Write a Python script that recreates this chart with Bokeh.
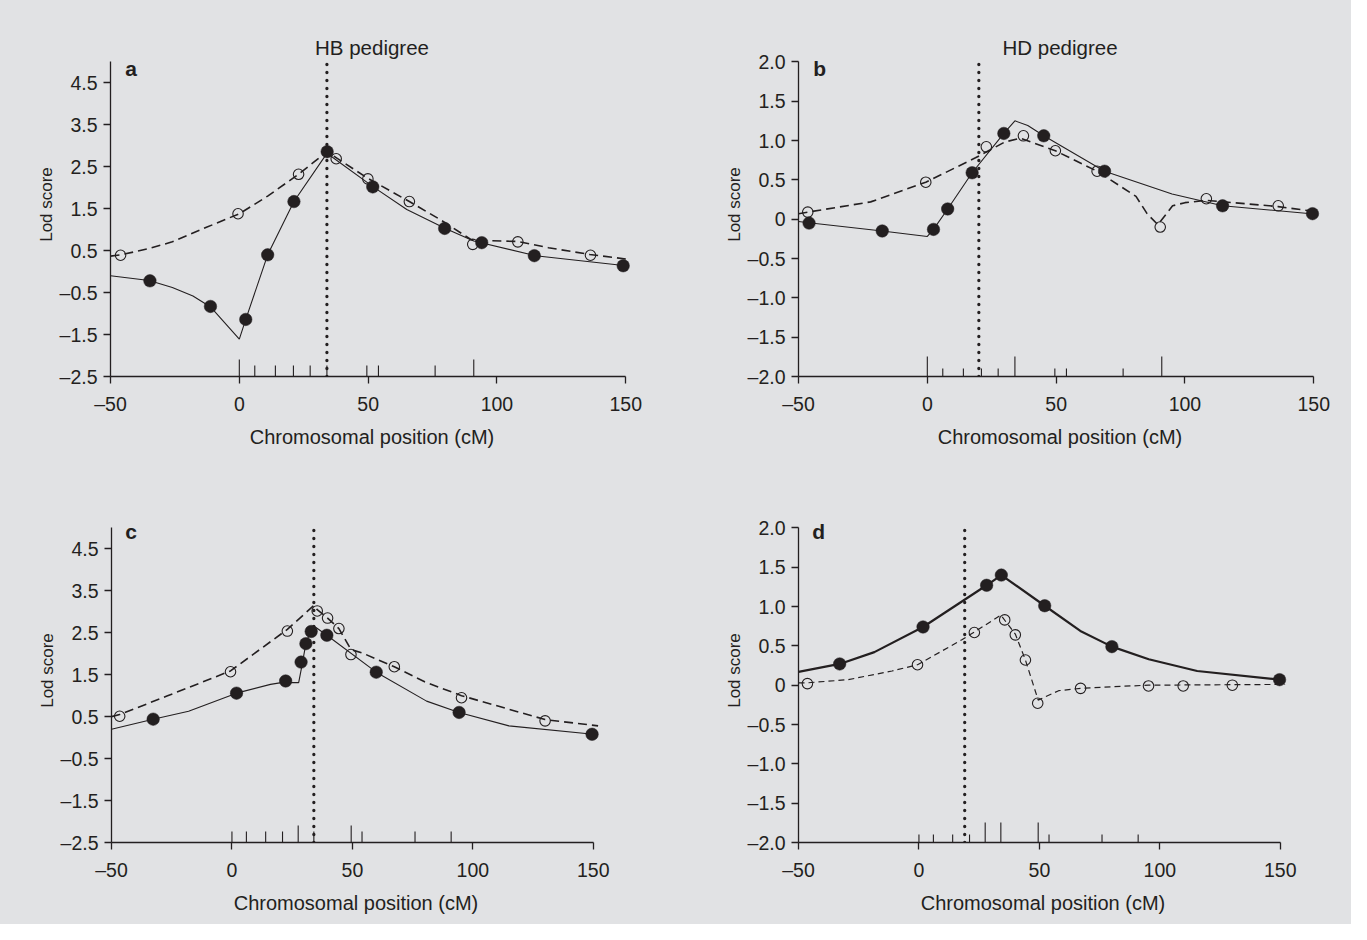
from bokeh.plotting import figure
from bokeh.layouts import column, row
from bokeh.models import FixedTicker, Label
from bokeh.embed import file_html
from bokeh.resources import INLINE

# ---------------- data ----------------
x_ticks = [-50, 0, 50, 100, 150]
y_ticks_ac = [-2.5, -1.5, -0.5, 0.5, 1.5, 2.5, 3.5, 4.5]
y_ticks_bd = [-2.0, -1.5, -1.0, -0.5, 0.0, 0.5, 1.0, 1.5, 2.0]

marker_pos = [0, 6, 14, 21, 27.5, 34, 49.5, 54, 76, 91]
a_tall = [1, 0, 0, 0, 0, 0, 0, 0, 0, 1]
b_tall = [1, 0, 0, 0, 0, 1, 0, 0, 0, 1]
c_tall = [0, 0, 0, 0, 1, 0, 1, 0, 0, 0]
d_tall = [0, 0, 0, 0, 1, 1, 1, 0, 0, 0]

# panel a (HB pedigree)
a_locus = 34
a_filled_x = [-34.7, -11.2, 2.5, 11.0, 21.2, 34.1, 51.8, 79.7, 94.1, 114.5, 149.0]
a_filled_y = [-0.22, -0.83, -1.14, 0.40, 1.67, 2.86, 2.02, 1.03, 0.69, 0.38, 0.14]
a_open_x = [-46.1, -0.5, 23.0, 37.6, 49.9, 66.0, 90.6, 108.1, 136.3]
a_open_y = [0.39, 1.38, 2.32, 2.69, 2.21, 1.67, 0.65, 0.71, 0.39]
a_solid_x = [-50, -35, -26, -18, -11, 0, 2.5, 11, 21.2, 34, 52, 65, 80, 91, 115, 150]
a_solid_y = [-0.10, -0.21, -0.38, -0.58, -0.85, -1.61, -1.14, 0.40, 1.67, 2.82, 2.02, 1.48, 1.03, 0.73, 0.38, 0.14]
a_dash_x = [-50, -46, -35, -26, -13, 0, 11, 23, 34, 38, 50, 66, 78, 90, 95, 108, 120, 136, 150]
a_dash_y = [0.37, 0.40, 0.55, 0.71, 1.05, 1.38, 1.80, 2.32, 2.86, 2.70, 2.22, 1.67, 1.24, 0.76, 0.74, 0.72, 0.57, 0.41, 0.30]

# panel b (HD pedigree)
b_locus = 20
b_filled_x = [-45.9, -17.5, 2.4, 7.9, 17.4, 29.7, 45.2, 68.8, 114.6, 149.5]
b_filled_y = [-0.05, -0.15, -0.13, 0.13, 0.59, 1.09, 1.06, 0.61, 0.17, 0.07]
b_open_x = [-46.4, -0.6, 22.9, 37.3, 49.7, 65.9, 90.4, 108.3, 136.2]
b_open_y = [0.09, 0.47, 0.92, 1.06, 0.87, 0.61, -0.10, 0.26, 0.17]
b_solid_x = [-50, -46, -17.5, 0, 2.4, 7.9, 17.4, 29.7, 34, 39, 45.2, 68.8, 95, 114.6, 150]
b_solid_y = [-0.03, -0.045, -0.15, -0.22, -0.13, 0.13, 0.59, 1.09, 1.25, 1.19, 1.06, 0.61, 0.32, 0.17, 0.066]
b_dash_x = [-50, -46.4, -22, -0.6, 18.7, 30, 36, 49.7, 65.9, 81, 85.3, 89.5, 95.2, 100, 108.3, 136.2, 150]
b_dash_y = [0.07, 0.09, 0.22, 0.47, 0.78, 0.98, 1.03, 0.87, 0.61, 0.29, 0.07, -0.07, 0.17, 0.21, 0.24, 0.16, 0.10]

# panel c
c_locus = 34
c_filled_x = [-32.7, 1.9, 22.3, 28.7, 30.7, 32.9, 39.4, 59.9, 94.3, 149.5]
c_filled_y = [0.44, 1.06, 1.35, 1.80, 2.24, 2.53, 2.44, 1.56, 0.60, 0.08]
c_open_x = [-46.6, -0.6, 23.0, 35.4, 39.7, 44.4, 49.4, 67.4, 95.3, 130.0]
c_open_y = [0.51, 1.57, 2.54, 3.02, 2.85, 2.60, 1.98, 1.69, 0.95, 0.40]
c_solid_x = [-50, -32.7, -18, 1.9, 16, 20.5, 27.7, 28.9, 30.7, 33, 34, 39.4, 59.9, 80.8, 94.3, 115, 150]
c_solid_y = [0.20, 0.44, 0.63, 1.06, 1.27, 1.31, 1.31, 1.67, 2.24, 2.60, 2.66, 2.44, 1.56, 0.87, 0.60, 0.28, 0.08]
c_dash_x = [-50, -46.6, -27, -0.6, 23, 34, 35.4, 39.7, 44.4, 49.4, 54, 67.4, 80, 95.3, 130, 152]
c_dash_y = [0.50, 0.55, 0.99, 1.59, 2.58, 3.15, 3.05, 2.85, 2.60, 2.10, 2.02, 1.69, 1.33, 1.00, 0.43, 0.28]

# panel d
d_locus = 19
d_filled_x = [-32.9, 1.7, 28.1, 34.2, 52.2, 80.1, 149.7]
d_filled_y = [0.27, 0.74, 1.27, 1.40, 1.01, 0.49, 0.07]
d_open_x = [-46.3, -0.6, 23.0, 35.6, 40.0, 44.2, 49.3, 67.1, 95.3, 109.7, 130.1]
d_open_y = [0.02, 0.26, 0.67, 0.83, 0.64, 0.32, -0.23, -0.04, -0.01, -0.01, 0.0]
d_solid_x = [-50, -32.9, -18.5, 1.7, 28.1, 34.2, 52.2, 67, 80.1, 95.4, 115.5, 149.7]
d_solid_y = [0.17, 0.27, 0.42, 0.74, 1.27, 1.40, 1.01, 0.69, 0.49, 0.33, 0.18, 0.07]
d_dash_x = [-50, -46.3, -29.4, -11.2, -0.6, 18, 34, 40, 44.2, 49.5, 58, 67.1, 80, 95.3, 152]
d_dash_y = [0.03, 0.03, 0.07, 0.18, 0.26, 0.58, 0.89, 0.65, 0.32, -0.19, -0.07, -0.04, -0.02, 0.0, 0.01]

# ---------------- style ----------------
BG = "#e1e2e4"
INK = "#231f20"
FONT = "Liberation Sans"


def fmt(t, zero="0"):
    if t == 0:
        return zero
    s = f"{abs(t):.1f}" if isinstance(t, float) else f"{abs(t)}"
    return ("\u2013" + s) if t < 0 else s


def panel(width, height, left, right, top, bottom, yr, ytop, yticks, title,
          letter, letter_dy, locus, tall, tick_px, fx, fy, ox, oy, sx, sy,
          dx, dy, solid_w, dash_w, dash_pat):
    p = figure(width=width, height=height, x_range=(-50, 153), y_range=yr,
               output_backend="svg", toolbar_location=None,
               min_border_left=left, min_border_right=right,
               min_border_top=top, min_border_bottom=bottom,
               background_fill_color=BG, border_fill_color=BG,
               outline_line_color=None)
    p.grid.visible = False
    frame_h = height - top - bottom
    unit = (yr[1] - yr[0]) / frame_h   # data units per pixel

    for ax in (p.xaxis[0], p.yaxis[0]):
        ax.axis_line_color = INK
        ax.axis_line_width = 1.3
        ax.major_tick_line_color = INK
        ax.major_tick_line_width = 1.3
        ax.major_tick_out = 7
        ax.major_tick_in = 0
        ax.minor_tick_line_color = None
        ax.major_label_text_font = FONT
        ax.major_label_text_font_size = "19.5px"
        ax.major_label_text_color = INK
        ax.axis_label_text_font = FONT
        ax.axis_label_text_font_style = "normal"
        ax.axis_label_text_color = INK
    xa = p.xaxis[0]
    xa.bounds = (-50, 150)
    xa.ticker = FixedTicker(ticks=x_ticks)
    xa.major_label_overrides = {t: fmt(t) for t in x_ticks}
    xa.axis_label = "Chromosomal position (cM)"
    xa.axis_label_text_font_size = "20px"
    xa.major_label_standoff = 9
    xa.axis_label_standoff = 8
    ya = p.yaxis[0]
    ya.bounds = (yr[0], ytop)
    ya.ticker = FixedTicker(ticks=yticks)
    ya.major_label_overrides = {t: fmt(t) for t in yticks}
    ya.axis_label = "Lod score"
    ya.axis_label_text_font_size = "17px"
    ya.major_label_standoff = 6
    ya.axis_label_standoff = 1

    # chromosome marker ticks above the axis
    y0 = [yr[0]] * len(marker_pos)
    y1 = [yr[0] + (tick_px[1] if t else tick_px[0]) * unit for t in tall]
    p.segment(x0=marker_pos, y0=y0, x1=marker_pos, y1=y1,
              line_color=INK, line_width=1.1)

    # locus dotted line (from the x axis up to the top of the y axis)
    p.segment(x0=[locus], y0=[yr[0]], x1=[locus], y1=[ytop - 2 * unit],
              line_color=INK, line_width=3.3, line_dash="0 8",
              line_cap="round")

    p.line(sx, sy, line_color=INK, line_width=solid_w)
    p.line(dx, dy, line_color=INK, line_width=dash_w, line_dash=dash_pat)
    p.scatter(ox, oy, size=10.5, marker="circle", fill_alpha=0,
              line_color=INK, line_width=1.1)
    p.scatter(fx, fy, size=12.5, marker="circle", fill_color=INK,
              line_color=INK, line_width=0.5)

    p.add_layout(Label(x=-44.3, y=ytop - letter_dy * unit, text=letter,
                       text_font=FONT, text_font_size="21px",
                       text_font_style="bold", text_color=INK,
                       text_baseline="alphabetic"))
    if title:
        p.add_layout(Label(x=51.5, y=ytop + 14 * unit, text=title,
                           text_font=FONT, text_font_size="20.5px",
                           text_color=INK, text_align="center",
                           text_baseline="alphabetic"))
    return p


# frame: 344 px tall; the y axis itself stops 29 px below the frame top
pa = panel(682, 458, 110, 49, 32, 82, (-2.5, 5.7), 5.0, y_ticks_ac, "HB pedigree", "a",
           7, a_locus, a_tall, (11, 17),
           a_filled_x, a_filled_y, a_open_x, a_open_y, a_solid_x, a_solid_y,
           a_dash_x, a_dash_y, 1.1, 1.6, "9 5")
pb = panel(669, 458, 116, 30, 32, 82, (-2.0, 2.3733), 2.0, y_ticks_bd, "HD pedigree", "b",
           7, b_locus, b_tall, (8, 20),
           b_filled_x, b_filled_y, b_open_x, b_open_y, b_solid_x, b_solid_y,
           b_dash_x, b_dash_y, 1.1, 1.6, "9 5")
pc = panel(682, 466, 111, 82, 40, 82, (-2.5, 5.7), 5.0, y_ticks_ac, None, "c",
           3.3, c_locus, c_tall, (11, 17),
           c_filled_x, c_filled_y, c_open_x, c_open_y, c_solid_x, c_solid_y,
           c_dash_x, c_dash_y, 1.1, 1.6, "9 5")
pd_ = panel(669, 466, 116, 64, 40, 82, (-2.0, 2.3733), 2.0, y_ticks_bd, None, "d",
            3.3, d_locus, d_tall, (8, 20),
            d_filled_x, d_filled_y, d_open_x, d_open_y, d_solid_x, d_solid_y,
            d_dash_x, d_dash_y, 2.2, 1.2, "6 4")

layout = column(row(pa, pb, styles={"background-color": BG}),
                row(pc, pd_, styles={"background-color": BG}),
                styles={"background-color": BG})
open("out.html", "w").write(file_html(layout, INLINE))
